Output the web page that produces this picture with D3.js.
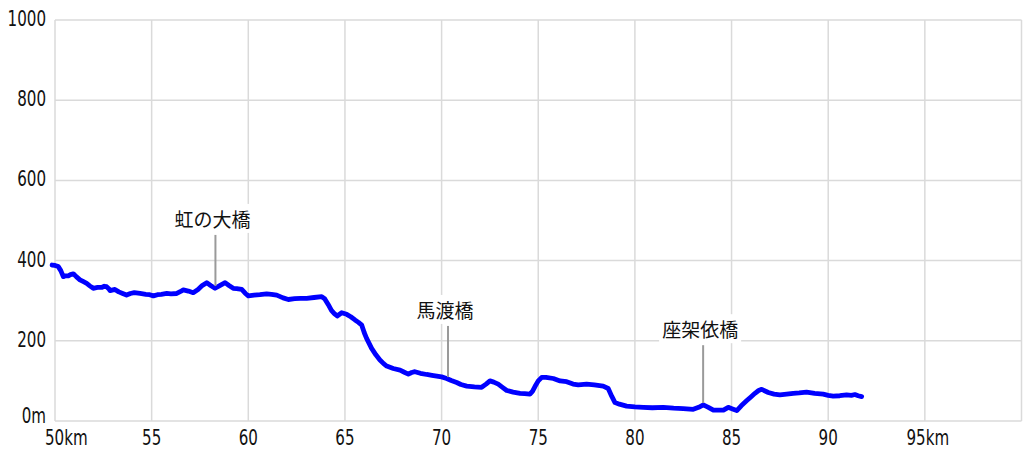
<!DOCTYPE html>
<meta charset="utf-8">
<script src="https://d3js.org/d3.v7.min.js"></script>
<style>
  body { margin: 0; background: white; }
  .tick-label { font-family: "DejaVu Sans", sans-serif; font-size: 21px; fill: #111; }
  .note { font-family: "Noto Sans CJK JP", sans-serif; font-size: 19px; fill: #111; }
</style>
<div id="chart"></div>
<script>
// distance along route (km)
var distKm = [49.85, 50.0, 50.17, 50.3, 50.43, 50.55, 50.69, 50.8, 50.95, 51.1, 51.29, 51.45, 51.64, 51.8, 51.98,
  52.2, 52.41, 52.55, 52.67, 52.78, 52.85, 53.0, 53.1, 53.3, 53.5, 53.7, 53.9, 54.1, 54.4, 54.7, 54.9,
  55.09, 55.3, 55.5, 55.78, 56.0, 56.3, 56.5, 56.64, 56.9, 57.15, 57.4, 57.6, 57.85, 58.05, 58.28, 58.5,
  58.8, 59.0, 59.22, 59.4, 59.66, 59.85, 60.0, 60.3, 60.6, 60.95, 61.2, 61.47, 61.8, 62.07, 62.4, 62.7,
  63.02, 63.4, 63.8, 63.95, 64.14, 64.3, 64.45, 64.6, 64.83, 65.09, 65.3, 65.52, 65.7, 65.87, 66.0, 66.12,
  66.38, 66.6, 66.81, 67.0, 67.16, 67.5, 67.85, 68.1, 68.28, 68.45, 68.62, 68.9, 69.23, 69.5, 69.75, 70.0,
  70.26, 70.5, 70.78, 71.0, 71.3, 71.7, 72.07, 72.3, 72.5, 72.7, 72.93, 73.15, 73.37, 73.7, 74.06, 74.3,
  74.57, 74.7, 74.83, 75.0, 75.18, 75.4, 75.78, 76.13, 76.47, 76.8, 77.07, 77.5, 77.9, 78.36, 78.62, 78.8,
  78.97, 79.2, 79.57, 80.0, 80.43, 80.9, 81.47, 82.0, 82.5, 83.02, 83.3, 83.54, 83.8, 84.06, 84.3, 84.58,
  84.83, 85.05, 85.27, 85.5, 85.79, 86.0, 86.21, 86.4, 86.56, 86.9, 87.2, 87.5, 87.85, 88.19, 88.5, 88.88,
  89.3, 89.74, 90.0, 90.26, 90.6, 90.95, 91.2, 91.38, 91.55, 91.73];

// elevation (m)
var elevM = [389, 388, 385, 375, 360, 362, 362, 365, 367, 360, 352, 348, 343, 337, 331,
  333, 333, 336, 335, 330, 325, 327, 328, 322, 318, 314, 318, 320, 318, 316, 315,
  312, 315, 316, 318, 317, 318, 323, 327, 324, 320, 328, 337, 345, 338, 331, 337,
  345, 338, 331, 330, 328, 318, 312, 314, 315, 317, 316, 314, 307, 303, 305, 306,
  306, 308, 310, 305, 290, 276, 268, 262, 270, 266, 260, 252, 246, 239, 220, 206,
  181, 165, 152, 143, 137, 131, 127, 121, 117, 121, 123, 119, 116, 114, 112, 110,
  106, 101, 96, 91, 87, 85, 84, 92, 100, 97, 92, 84, 76, 72, 69, 68,
  67, 74, 86, 100, 109, 109, 106, 100, 98, 92, 90, 92, 90, 87, 81, 62,
  46, 42, 37, 35, 34, 33, 34, 32, 31, 29, 34, 40, 34, 27, 27, 27,
  34, 30, 26, 38, 51, 60, 69, 76, 79, 71, 67, 65, 67, 69, 70, 72,
  69, 67, 64, 62, 63, 65, 64, 66, 63, 61];

var xTicks = [50, 55, 60, 65, 70, 75, 80, 85, 90, 95, 100];
var xTickLabels = ["50km", "55", "60", "65", "70", "75", "80", "85", "90", "95km", ""];
var yTicks = [0, 200, 400, 600, 800, 1000];
var yTickLabels = ["0m", "200", "400", "600", "800", "1000"];

// bridges
var noteNames = ["虹の大橋", "馬渡橋", "座架依橋"];
var noteKm = [58.3, 70.33, 83.53];
var noteTextAlt = [484, 257, 209];

var W = 1024, H = 455;
var svg = d3.select("#chart").append("svg")
  .attr("width", W).attr("height", H)
  .style("display", "block");

var x = d3.scaleLinear().domain([50, 100]).range([55, 1021.5]);
var y = d3.scaleLinear().domain([0, 1000]).range([421, 20]);

// narrow looking labels: squeeze the glyphs horizontally
var squeeze = 0.72;
function label(txt, px, py, anchor) {
  return svg.append("text")
    .attr("class", "tick-label")
    .attr("text-anchor", anchor)
    .attr("transform", "translate(" + px + "," + py + ") scale(" + squeeze + ",1)")
    .text(txt);
}

// grid
svg.append("g").selectAll("line")
  .data(xTicks).enter().append("line")
    .attr("x1", function(d) { return x(d); })
    .attr("x2", function(d) { return x(d); })
    .attr("y1", y(1000)).attr("y2", y(0))
    .attr("stroke", "#dadada").attr("stroke-width", 1.5);
svg.append("g").selectAll("line")
  .data(yTicks).enter().append("line")
    .attr("x1", x(50)).attr("x2", x(100))
    .attr("y1", function(d) { return y(d); })
    .attr("y2", function(d) { return y(d); })
    .attr("stroke", "#dadada").attr("stroke-width", 1.5);

// y labels
yTicks.forEach(function(d, i) {
  label(yTickLabels[i], 46, y(d) + (d === 0 ? 2 : 6), "end");
});

// x labels
xTicks.forEach(function(d, i) {
  if (i === 0) label(xTickLabels[i], x(d) - 10, 445, "start");
  else label(xTickLabels[i], x(d) + (i === 9 ? 3 : 0), 445, "middle");
});

// profile line
var pts = distKm.map(function(d, i) { return [d, elevM[i]]; });
var line = d3.line()
  .x(function(d) { return x(d[0]); })
  .y(function(d) { return y(d[1]); });

svg.append("path")
  .datum(pts)
  .attr("fill", "none")
  .attr("stroke", "#0000ff")
  .attr("stroke-width", 4.8)
  .attr("stroke-linejoin", "round")
  .attr("stroke-linecap", "round")
  .attr("d", line);

// bridge notes
var elevAt = function(km) {
  var i = d3.bisectLeft(distKm, km);
  var k0 = distKm[i - 1], k1 = distKm[i];
  return elevM[i - 1] + (elevM[i] - elevM[i - 1]) * (km - k0) / (k1 - k0);
};

noteNames.forEach(function(name, i) {
  var g = svg.append("g");
  var lx = x(noteKm[i]);
  var ty = y(noteTextAlt[i]);
  var bg = g.append("rect").attr("fill", "white");
  var t = g.append("text")
    .attr("class", "note")
    .attr("text-anchor", "middle")
    .attr("x", lx - 3)
    .attr("y", ty)
    .text(name);
  var bb = t.node().getBBox();
  bg.attr("x", bb.x - 3).attr("y", bb.y - 1)
    .attr("width", bb.width + 6).attr("height", bb.height + 2);
  g.append("line")
    .attr("x1", lx).attr("x2", lx)
    .attr("y1", ty + 8)
    .attr("y2", y(elevAt(noteKm[i])) - 2)
    .attr("stroke", "#9a9a9a")
    .attr("stroke-width", 2);
});
</script>
